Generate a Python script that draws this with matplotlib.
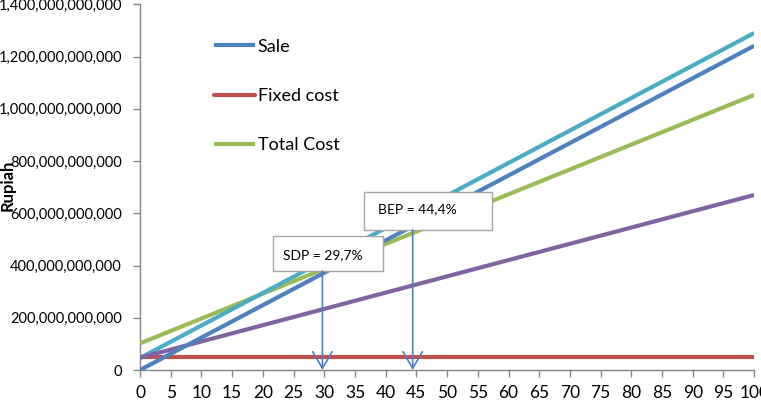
import matplotlib
matplotlib.use("Agg")
import matplotlib.pyplot as plt
from matplotlib.ticker import FuncFormatter
from matplotlib.patches import Rectangle

plt.rcParams['font.family'] = ['Lato', 'DejaVu Sans']

# Data (percent of capacity vs Rupiah)
x_pct = [0, 100]
sale = [0, 1.241e12]
fixed_cost = [48e9, 48e9]
total_cost = [102e9, 1.053e12]
series_cyan = [46e9, 1.290e12]
series_purple = [47e9, 670e9]
bep_pct = 44.4
sdp_pct = 29.7
bep_label = "BEP = 44,4%"
sdp_label = "SDP = 29,7%"
x_ticks = list(range(0, 101, 5))
y_ticks = [0, 200e9, 400e9, 600e9, 800e9, 1000e9, 1200e9, 1400e9]

fig = plt.figure(figsize=(7.61, 4.18), dpi=100)
ax = fig.add_axes([0.184, 0.1148, 0.807, 0.875])

lw = 3.0
l_sale, = ax.plot(x_pct, sale, color='#4F81BD', lw=lw, solid_capstyle='butt', zorder=4)
l_fixed, = ax.plot(x_pct, fixed_cost, color='#C0504D', lw=lw, solid_capstyle='round', zorder=3)
l_total, = ax.plot(x_pct, total_cost, color='#9BBB59', lw=lw, solid_capstyle='butt', zorder=3)
ax.plot(x_pct, series_cyan, color='#4BACC6', lw=lw, solid_capstyle='butt', zorder=3)
ax.plot(x_pct, series_purple, color='#8064A2', lw=lw, solid_capstyle='butt', zorder=3)

ax.set_xlim(0, 100)
ax.set_ylim(0, 1.4e12)
ax.set_xticks(x_ticks)
ax.set_yticks(y_ticks)
ax.yaxis.set_major_formatter(FuncFormatter(lambda v, p: f"{v:,.0f}"))
ax.tick_params(axis='y', direction='out', length=5, width=1, color='#868686', labelsize=10.5, pad=8)
ax.tick_params(axis='x', direction='out', length=5, width=1, color='#868686', labelsize=12.5, pad=6)
for s in ['top', 'right']:
    ax.spines[s].set_visible(False)
for s in ['left', 'bottom']:
    ax.spines[s].set_color('#868686')
    ax.spines[s].set_linewidth(1)
ax.set_ylabel('Rupiah', fontsize=12, fontweight='bold')
ax.yaxis.set_label_coords(-0.2025, 0.505)

# Annotation boxes
box_kw = dict(facecolor='white', edgecolor='#A6A6A6', lw=1, zorder=6)
bep_box = (36.5, 536e9, 20.8, 146e9)
sdp_box = (21.7, 379e9, 17.9, 134e9)
ax.add_patch(Rectangle((bep_box[0], bep_box[1]), bep_box[2], bep_box[3], **box_kw))
ax.add_patch(Rectangle((sdp_box[0], sdp_box[1]), sdp_box[2], sdp_box[3], **box_kw))
ax.text(bep_box[0] + bep_box[2] * 0.42, bep_box[1] + bep_box[3] * 0.55, bep_label,
        ha='center', va='center', fontsize=10, zorder=7)
ax.text(sdp_box[0] + sdp_box[2] * 0.45, sdp_box[1] + sdp_box[3] * 0.45, sdp_label,
        ha='center', va='center', fontsize=10, zorder=7)

arrow_kw = dict(arrowstyle='->,head_length=0.6,head_width=0.35', color='#4F81BD',
                lw=1.2, mutation_scale=20, shrinkA=0, shrinkB=0)
ax.annotate('', xy=(bep_pct, 0), xytext=(bep_pct, bep_box[1]),
            arrowprops=arrow_kw, zorder=8)
ax.annotate('', xy=(sdp_pct, 0), xytext=(sdp_pct, sdp_box[1]),
            arrowprops=arrow_kw, zorder=8)

leg = ax.legend([l_sale, l_fixed, l_total], ['Sale', 'Fixed cost', 'Total Cost'],
                loc='upper left', bbox_to_anchor=(0.272, 0.925), bbox_transform=fig.transFigure,
                frameon=False, fontsize=13, labelspacing=1.85, handlelength=2.25,
                handletextpad=0.15, borderaxespad=0)

fig.savefig('out.png', dpi=100)
